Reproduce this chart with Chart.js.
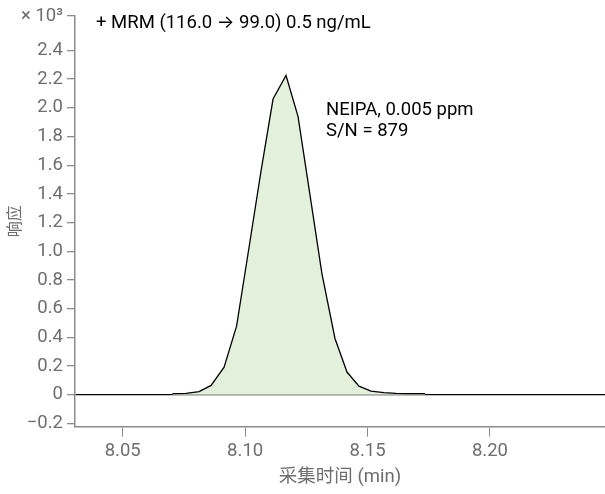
<!DOCTYPE html>
<html>
<head>
<meta charset="utf-8">
<script src="https://cdn.jsdelivr.net/npm/chart.js@4"></script>
<style>
  body { margin: 0; background: #fff; }
  canvas { display: block; }
</style>
</head>
<body>
<canvas id="mrmChart" width="605" height="494"></canvas>
<script>
// retention time (min) and response (x10^3)
const times = [8.0703, 8.0759, 8.0812, 8.0861, 8.0914, 8.0965, 8.1016, 8.1065, 8.1114, 8.1167,
               8.1216, 8.1265, 8.1314, 8.1367, 8.1416, 8.1465, 8.1514, 8.1567, 8.1616, 8.1665, 8.1735];
const response = [0.007, 0.009, 0.021, 0.065, 0.192, 0.478, 1.028, 1.560, 2.061, 2.225,
                  1.940, 1.391, 0.841, 0.392, 0.158, 0.060, 0.025, 0.014, 0.009, 0.007, 0.007];

const xTicks = [8.05, 8.10, 8.15, 8.20];
const yTicks = [-0.2, 0, 0.2, 0.4, 0.6, 0.8, 1.0, 1.2, 1.4, 1.6, 1.8, 2.0, 2.2, 2.4];
const xMin = 8.0305, xMax = 8.247;
const yMin = -0.223, yMax = 2.64;

const titleText = '+ MRM (116.0 \u2192 99.0) 0.5 ng/mL';
const noteLines = ['NEIPA, 0.005 ppm', 'S/N = 879'];

const FONT = 'Roboto, Inter, "Noto Sans CJK SC", sans-serif';
const axisGray = '#8c8c8c';
const labelGray = '#6e6e6e';

const textPlugin = {
    id: 'textPlugin',
    afterDraw(chart) {
        const c = chart.ctx;
        const area = chart.chartArea;
        c.save();
        c.font = '18.5px ' + FONT;
        c.fillStyle = '#000';
        c.textBaseline = 'middle';
        c.textAlign = 'left';
        c.fillText(titleText, area.left + 21, 23.5);
        c.fillText(noteLines[0], area.left + 251, 110);
        c.fillText(noteLines[1], area.left + 251, 131.5);
        c.restore();
    }
};

const ctx = document.getElementById('mrmChart').getContext('2d');
const mrmChart = new Chart(ctx, {
    type: 'line',
    data: {
        datasets: [{
            data: times.map((t, i) => ({ x: t, y: response[i] })),
            borderColor: '#000',
            borderWidth: 1.3,
            backgroundColor: '#e2f0dc',
            fill: 'origin',
            pointRadius: 0,
            tension: 0
        }]
    },
    options: {
        responsive: false,
        animation: false,
        layout: { padding: { top: 16, right: 0, left: 0, bottom: 0 } },
        plugins: {
            legend: { display: false },
            tooltip: { enabled: false }
        },
        scales: {
            x: {
                type: 'linear',
                min: xMin,
                max: xMax,
                afterBuildTicks: scale => { scale.ticks = xTicks.map(v => ({ value: v })); },
                afterFit: scale => { scale.height = 67.3; },
                ticks: {
                    color: labelGray,
                    font: { family: FONT, size: 18.5 },
                    padding: 4,
                    maxRotation: 0,
                    callback: v => Number(v).toFixed(2)
                },
                grid: {
                    drawOnChartArea: false,
                    drawTicks: true,
                    tickLength: 10,
                    tickColor: axisGray
                },
                border: { display: true, color: axisGray, width: 1.5 },
                title: {
                    display: true,
                    text: '采集时间 (min)',
                    color: labelGray,
                    font: { family: FONT, size: 18.5 },
                    padding: { top: 0, bottom: 6 }
                }
            },
            y: {
                min: yMin,
                max: yMax,
                afterBuildTicks: scale => {
                    scale.ticks = yTicks.concat([yMax]).map(v => ({ value: v }));
                },
                afterFit: scale => { scale.width = 75; },
                ticks: {
                    color: labelGray,
                    font: { family: FONT, size: 18.5 },
                    padding: 4,
                    callback: v => {
                        if (v === yMax) return '\u00d7 10\u00b3';
                        if (v === 0) return '0';
                        return v < 0 ? '\u2212' + Math.abs(v).toFixed(1) : v.toFixed(1);
                    }
                },
                grid: {
                    // only the zero line is drawn across the plot
                    color: c => (c.tick && c.tick.value === 0) ? '#000' : 'rgba(0,0,0,0)',
                    lineWidth: 1.3,
                    tickLength: 8,
                    tickColor: axisGray
                },
                border: { display: true, color: axisGray, width: 1.5 },
                title: {
                    display: true,
                    text: '响应',
                    color: labelGray,
                    font: { family: FONT, size: 16 },
                    padding: { top: 6, bottom: 0 }
                }
            }
        }
    },
    plugins: [textPlugin]
});
</script>
</body>
</html>
